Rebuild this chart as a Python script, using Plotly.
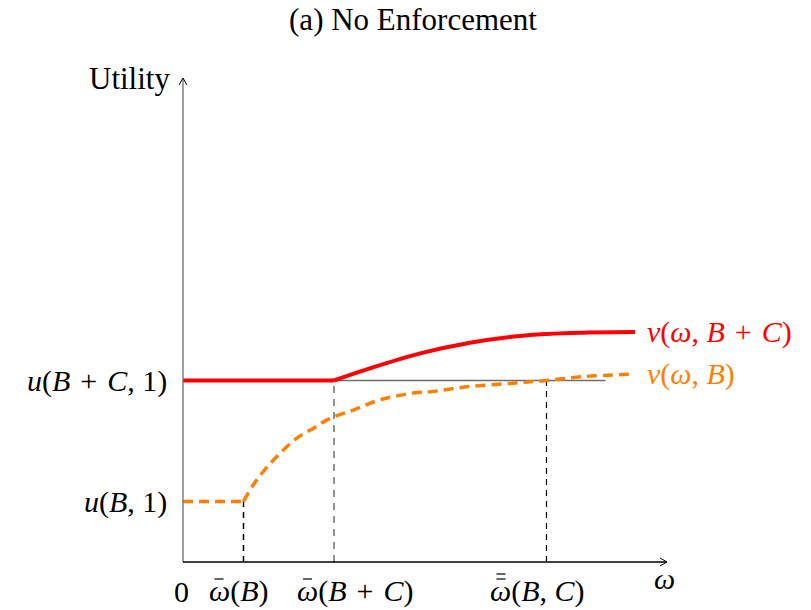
import plotly.graph_objects as go

# Threshold values on the omega axis and the two utility levels
w_bar_B = 1.25        # omega-bar(B)
w_bar_BC = 3.12       # omega-bar(B+C)
w_dbar_BC = 7.51      # double-bar omega(B, C)
u_BC = 3.75           # u(B+C, 1)
u_B = 1.25            # u(B, 1)

# v(omega, B+C): flat at u(B+C,1), then rising
red_flat_x = [0.0, w_bar_BC]
red_flat_y = [u_BC, u_BC]
red_curve_x = [3.12, 3.86, 4.90, 5.93, 6.96, 8.00, 9.34]
red_curve_y = [3.75, 4.00, 4.31, 4.53, 4.67, 4.73, 4.75]

# v(omega, B): flat at u(B,1), then rising
orange_flat_x = [0.0, w_bar_B]
orange_flat_y = [u_B, u_B]
orange_curve_x = [1.25, 1.45, 1.66, 1.94, 2.35, 2.69, 3.04, 3.52, 4.07, 4.76,
                  5.14, 5.86, 6.76, 7.51, 8.27, 9.30]
orange_curve_y = [1.25, 1.59, 1.87, 2.18, 2.56, 2.76, 2.97, 3.14, 3.35, 3.49,
                  3.52, 3.62, 3.69, 3.75, 3.83, 3.88]

gray_line_end = 8.73
x_max, y_max = 10.0, 10.0

RED = "#ff0000"
ORANGE = "#ff8000"
GRAY = "#6e6e6e"
FONT = "Liberation Serif"

# plot frame: origin at (183, 562) px, 48.4 px per unit on both axes
W, H = 811, 610
ML, MR, MT, MB = 159, 130, 60, 30
PPU = 48.4
x_lo = -(183 - ML) / PPU
x_hi = x_lo + (W - ML - MR) / PPU
y_lo = -((H - MB) - 562) / PPU
y_hi = y_lo + (H - MT - MB) / PPU

fig = go.Figure()

# reference level u(B+C,1) as a thin gray line
fig.add_trace(go.Scatter(x=[w_bar_BC, gray_line_end], y=[u_BC, u_BC], mode="lines",
                         line=dict(color=GRAY, width=1.5), hoverinfo="skip"))

# dashed drop lines
fig.add_trace(go.Scatter(x=[w_bar_B, w_bar_B], y=[0, u_B], mode="lines",
                         line=dict(color="black", width=1.5, dash="6px,5px"), hoverinfo="skip"))
fig.add_trace(go.Scatter(x=[w_bar_BC, w_bar_BC], y=[0, u_BC], mode="lines",
                         line=dict(color=GRAY, width=1.5, dash="7px,6px"), hoverinfo="skip"))
fig.add_trace(go.Scatter(x=[w_dbar_BC, w_dbar_BC], y=[0, u_BC], mode="lines",
                         line=dict(color="black", width=1.2, dash="6px,5px"), hoverinfo="skip"))

# orange dashed v(omega, B)
fig.add_trace(go.Scatter(x=orange_flat_x, y=orange_flat_y, mode="lines",
                         line=dict(color=ORANGE, width=3.5, dash="10px,6px")))
fig.add_trace(go.Scatter(x=orange_curve_x, y=orange_curve_y, mode="lines",
                         line=dict(color=ORANGE, width=3.5, dash="10px,6px",
                                   shape="spline", smoothing=1.0)))

# red solid v(omega, B+C)
fig.add_trace(go.Scatter(x=red_flat_x, y=red_flat_y, mode="lines",
                         line=dict(color=RED, width=4)))
fig.add_trace(go.Scatter(x=red_curve_x, y=red_curve_y, mode="lines",
                         line=dict(color=RED, width=4, shape="spline", smoothing=1.0)))

# axes with open arrowheads
shapes = [
    dict(type="line", xref="x", yref="y", x0=0, y0=0, x1=0, y1=y_max,
         line=dict(color=GRAY, width=1.3)),
    dict(type="line", xref="x", yref="y", x0=0, y0=0, x1=x_max, y1=0,
         line=dict(color="black", width=1.3)),
]
for sx in (-1, 1):
    shapes.append(dict(type="line", xref="x", yref="y", xsizemode="pixel", ysizemode="pixel",
                       xanchor=0, yanchor=y_max, x0=sx * 4, y0=-7, x1=0, y1=0,
                       line=dict(color="black", width=1)))
    shapes.append(dict(type="line", xref="x", yref="y", xsizemode="pixel", ysizemode="pixel",
                       xanchor=x_max, yanchor=0, x0=-7, y0=sx * 4, x1=0, y1=0,
                       line=dict(color="black", width=1)))

LS = 30
SP = "\u2004"
TY = -29  # vertical offset of tick labels below the axis


def ann(text, x, y, xanchor="center", yanchor="middle", color="black", size=LS,
        xshift=0, yshift=0):
    return dict(text=text, x=x, y=y, xref="x", yref="y", showarrow=False,
                xanchor=xanchor, yanchor=yanchor, xshift=xshift, yshift=yshift,
                font=dict(family=FONT, size=size, color=color))


def bar(xa, px0, px1, py):
    # short overbar placed in pixels relative to a tick position
    return dict(type="line", xref="x", yref="y", xsizemode="pixel", ysizemode="pixel",
                xanchor=xa, yanchor=0, x0=px0, x1=px1, y0=py, y1=py,
                line=dict(color="black", width=1.2))


# omega-bar tick labels: label start offset (px from tick) and number of bars
omega_ticks = [
    (w_bar_B, -37, "<i>ω</i>(<i>B</i>)", 1),
    (w_bar_BC, -39, f"<i>ω</i>(<i>B</i>{SP}+{SP}<i>C</i>)", 1),
    (w_dbar_BC, -58, "<i>ω</i>(<i>B</i>, <i>C</i>)", 2),
]

annotations = [
    ann(f"<i>u</i>(<i>B</i>{SP}+{SP}<i>C</i>, 1)", 0, u_BC, xanchor="right", xshift=-14),
    ann("<i>u</i>(<i>B</i>, 1)", 0, u_B, xanchor="right", xshift=-14),
    ann("Utility", 0, y_max, xanchor="right", xshift=-11, size=31),
    ann("0", 0, 0, yshift=TY, xshift=-2),
    ann("<i>ω</i>", x_max, 0, yshift=-16, xshift=-3),
    ann(f"<i>v</i>(<i>ω</i>, <i>B</i>{SP}+{SP}<i>C</i>)", red_curve_x[-1], red_curve_y[-1],
        xanchor="left", xshift=10, color=RED),
    ann("<i>v</i>(<i>ω</i>, <i>B</i>)", orange_curve_x[-1], orange_curve_y[-1],
        xanchor="left", xshift=12, color=ORANGE),
]
for xt, start, text, nbars in omega_ticks:
    annotations.append(ann(text, xt, 0, xanchor="left", yshift=TY, xshift=start))
    for k in range(nbars):
        shapes.append(bar(xt, start + 8, start + 17, -17 + 5 * k))

fig.update_layout(
    width=W, height=H,
    margin=dict(l=ML, r=MR, t=MT, b=MB),
    plot_bgcolor="white", paper_bgcolor="white",
    showlegend=False,
    title=dict(text="(a) No Enforcement", x=413 / W, xref="container", xanchor="center",
               y=1 - 19 / H, yref="container", yanchor="middle",
               font=dict(family=FONT, size=31, color="black")),
    xaxis=dict(range=[x_lo, x_hi], visible=False, fixedrange=True),
    yaxis=dict(range=[y_lo, y_hi], visible=False, fixedrange=True),
    shapes=shapes,
    annotations=annotations,
)

fig.write_html("out.html")
